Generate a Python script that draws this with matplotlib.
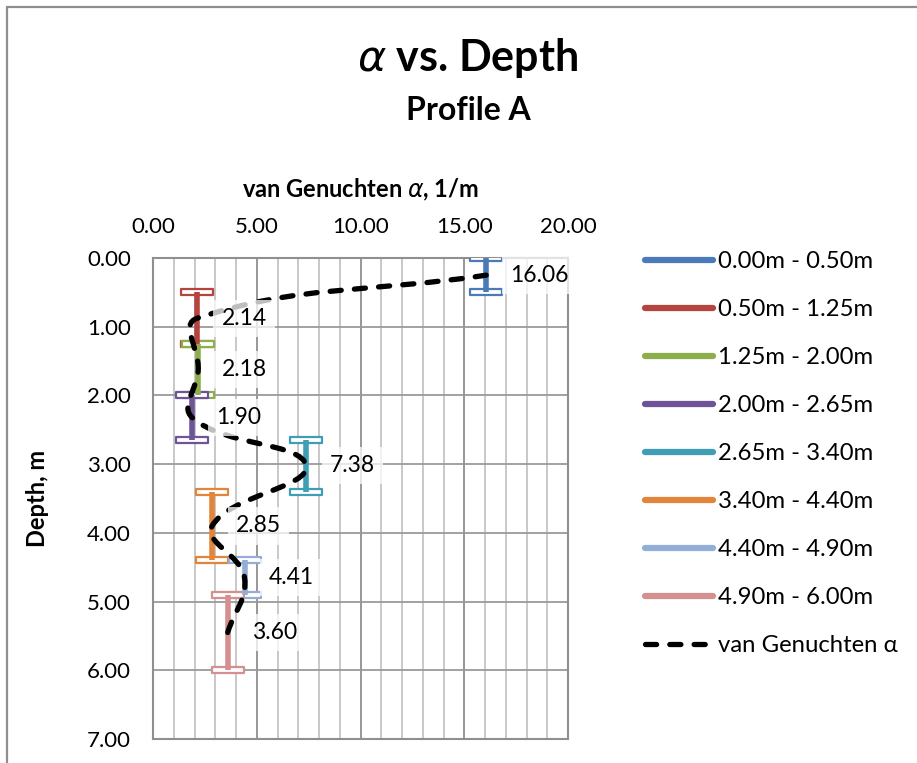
import matplotlib
matplotlib.use('Agg')

import matplotlib.pyplot as plt
from matplotlib.path import Path
from matplotlib.patches import PathPatch, Rectangle
from matplotlib.lines import Line2D
import numpy as np

plt.rcParams['font.family'] = ['Lato', 'DejaVu Sans']
plt.rcParams['lines.scale_dashes'] = False

# layer boundaries (m) and fitted alpha (1/m)
layer_top = [0.00, 0.50, 1.25, 2.00, 2.65, 3.40, 4.40, 4.90]
layer_bot = [0.50, 1.25, 2.00, 2.65, 3.40, 4.40, 4.90, 6.00]
alpha = [16.06, 2.14, 2.18, 1.90, 7.38, 2.85, 4.41, 3.60]
labels = ['0.00m - 0.50m', '0.50m - 1.25m', '1.25m - 2.00m', '2.00m - 2.65m',
          '2.65m - 3.40m', '3.40m - 4.40m', '4.40m - 4.90m', '4.90m - 6.00m']
colors = ['#4a7ab8', '#b5443f', '#8cae4b', '#6e5497',
          '#3f9db5', '#e2843a', '#93aed6', '#d49090']

fig = plt.figure(figsize=(9.17, 7.63), dpi=100)
ax = fig.add_axes([153/917, 1 - 739/763, (568-153)/917, (739-258)/763])

# grid
ax.set_xlim(0, 20)
ax.set_ylim(7, 0)
ax.set_xticks(np.arange(0, 21, 5))
ax.set_xticks(np.arange(0, 21, 1), minor=True)
ax.set_yticks(np.arange(0, 8, 1))
ax.grid(which='minor', axis='x', color='#c4c4c4', lw=1.3)
ax.grid(which='major', axis='x', color='#8f8f8f', lw=1.3)
ax.grid(which='major', axis='y', color='#9a9a9a', lw=1.3)
ax.set_axisbelow(True)
for s in ax.spines.values():
    s.set_color('#8f8f8f')
    s.set_linewidth(1.5)

ax.xaxis.tick_top()
ax.xaxis.set_label_position('top')
ax.tick_params(which='both', length=0)
ax.tick_params(axis='x', pad=15, labelsize=16)
ax.tick_params(axis='y', pad=16, labelsize=16)
ax.xaxis.set_major_formatter(matplotlib.ticker.FormatStrFormatter('%.2f'))
ax.yaxis.set_major_formatter(matplotlib.ticker.FormatStrFormatter('%.2f'))

ax.set_xlabel(r'van Genuchten $\mathit{\alpha}$, 1/m', fontsize=17, fontweight='bold', labelpad=14)
ax.set_ylabel('Depth, m', fontsize=17, fontweight='bold', labelpad=27)

# cap marker: thin hollow rectangle
cap = Path([(-1, -0.2), (1, -0.2), (1, 0.2), (-1, 0.2), (-1, -0.2)],
           [Path.MOVETO, Path.LINETO, Path.LINETO, Path.LINETO, Path.CLOSEPOLY])

handles = []
for a, t, b, c, lab in zip(alpha, layer_top, layer_bot, colors, labels):
    ax.plot([a, a], [t, b], ls='none', marker=cap, markersize=23,
            mfc='white', mec=c, mew=1.6, zorder=3)
    ax.plot([a, a], [t, b], color=c, lw=4, solid_capstyle='butt', zorder=4)
    handles.append(Line2D([], [], color=c, lw=4.5, solid_capstyle='round', label=lab))

# smoothed dashed line through layer midpoints (arm length weighted by segment length on screen)
mid = [(t + b) / 2 for t, b in zip(layer_top, layer_bot)]
pts = np.column_stack([alpha, mid])
sx, sy = 415 / 20, 481 / 7
n = len(pts)
d = [np.hypot((pts[i + 1, 0] - pts[i, 0]) * sx, (pts[i + 1, 1] - pts[i, 1]) * sy) for i in range(n - 1)]
arm_out, arm_in = [], []
for i in range(n):
    p0 = pts[max(i - 1, 0)]
    p2 = pts[min(i + 1, n - 1)]
    din = d[i - 1] if i > 0 else 0.0
    dout = d[i] if i < n - 1 else 0.0
    tot = din + dout
    arm_out.append((p2 - p0) * dout / tot * 0.42)
    arm_in.append((p2 - p0) * din / tot * 0.42)
verts = [pts[0]]
codes = [Path.MOVETO]
for i in range(n - 1):
    verts += [pts[i] + arm_out[i], pts[i + 1] - arm_in[i + 1], pts[i + 1]]
    codes += [Path.CURVE4] * 3
dash = (0, (8, 9.5))
ax.add_patch(PathPatch(Path(verts, codes), fill=False, edgecolor='black', lw=3.8,
                       linestyle=dash, capstyle='round', zorder=5))
handles.append(Line2D([], [], color='black', lw=3.8, linestyle=dash,
                      dash_capstyle='round', label='van Genuchten α'))

for a, m in zip(alpha, mid):
    ax.annotate('%.2f' % a, (a, m), xytext=(24, 0), textcoords='offset pixels',
                va='center', ha='left', fontsize=16.5, zorder=6,
                bbox=dict(boxstyle='square,pad=0.35', fc='white', ec='none', alpha=0.75))

fig.legend(handles=handles, loc='upper left', bbox_to_anchor=(633/917, 1 - 239/763),
           frameon=False, fontsize=17.2, handlelength=2.85, handletextpad=0.2,
           labelspacing=1.13, borderpad=0)

fig.text(468/917, 1 - 58/763, r'$\mathit{\alpha}$ vs. Depth', ha='center', va='center',
         fontsize=31, fontweight='bold')
fig.text(468/917, 1 - 111/763, 'Profile A', ha='center', va='center',
         fontsize=23, fontweight='bold')

fig.patches.append(Rectangle((6.5/917, -0.5), 2, 1.5 - 6.5/763, transform=fig.transFigure,
                             fill=False, edgecolor='#8f8f8f', lw=1.6))

plt.savefig('out.png')
